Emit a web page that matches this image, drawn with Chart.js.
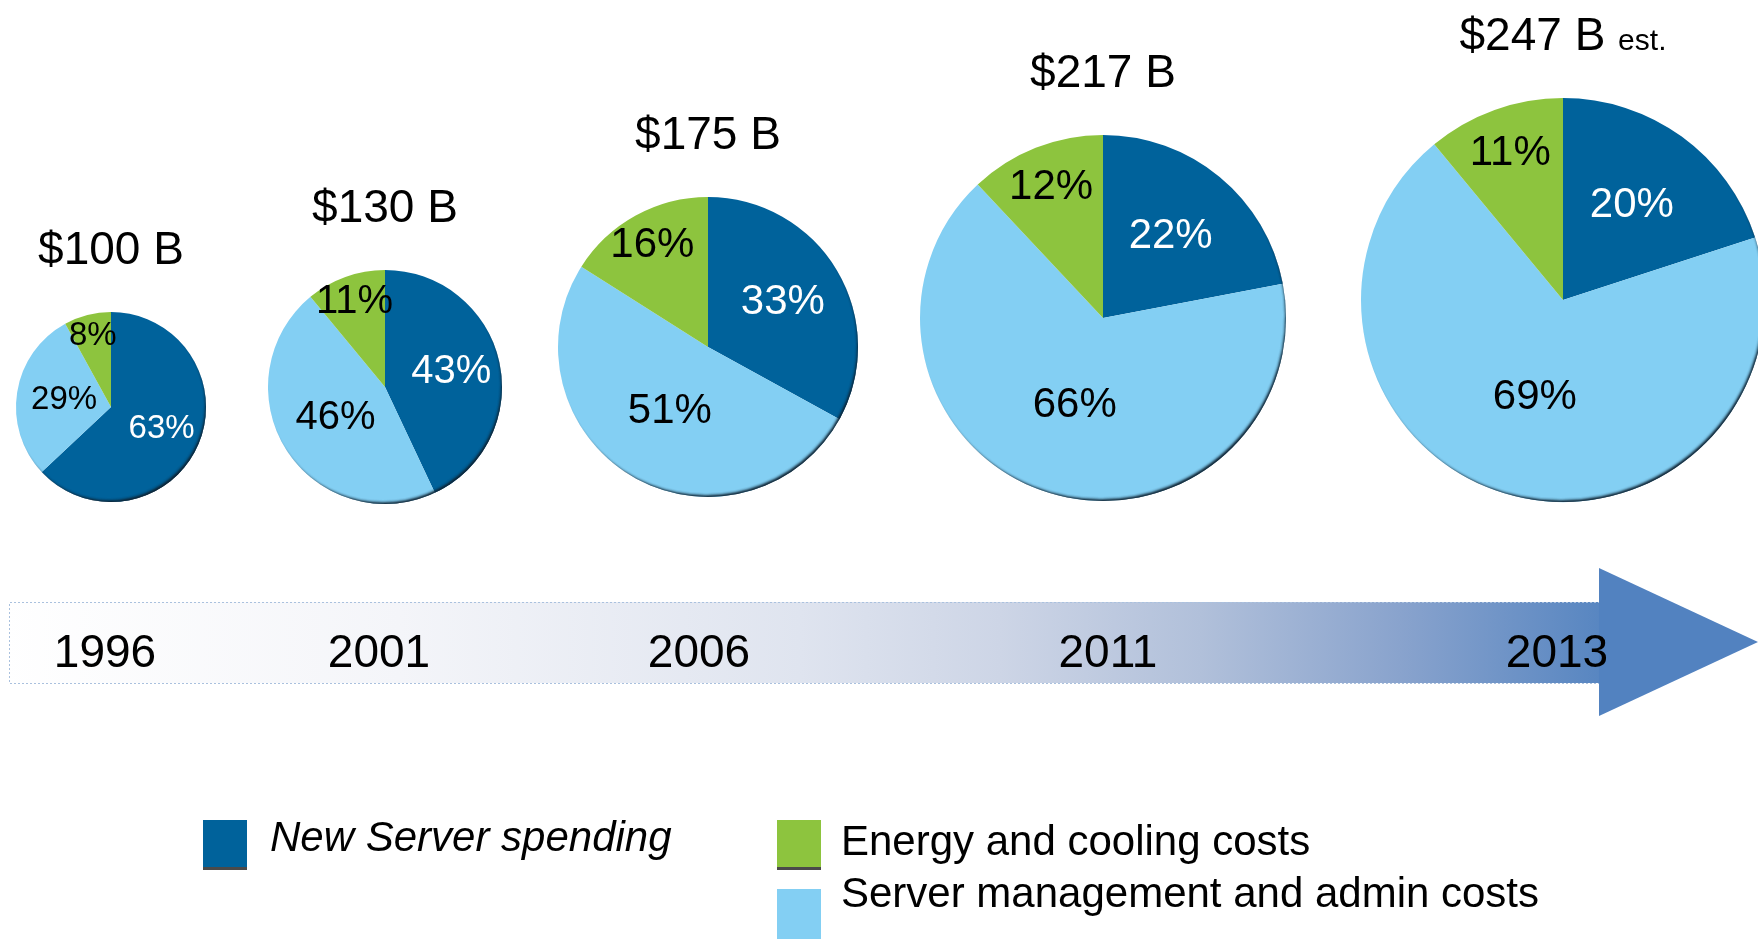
<!DOCTYPE html>
<html>
<head>
<meta charset="utf-8">
<script src="https://cdn.jsdelivr.net/npm/chart.js@4.4.1/dist/chart.umd.min.js"></script>
<style>
  html, body { margin: 0; padding: 0; width: 1758px; height: 939px; overflow: hidden; background: #fff; }
  body { position: relative; font-family: "Liberation Sans", Arial, sans-serif; color: #000; }
  .abs { position: absolute; }
  .total { font-size: 46px; line-height: 46px; white-space: nowrap; transform: translateX(-50%); }
  .total small { font-size: 30px; }
  .year { font-size: 46px; line-height: 46px; transform: translateX(-50%); }
  .swatch { width: 44px; height: 47px; }
  .swatch.edge { border-bottom: 3px solid #4a4a4a; }
  .legend-text { font-size: 42px; line-height: 42px; white-space: nowrap; }
</style>
</head>
<body>
<canvas id="arrow" class="abs" width="1758" height="939" style="left:0;top:0"></canvas>
<script>
  // values (percent of yearly total)
  const years = ['1996', '2001', '2006', '2011', '2013'];
  const totalLabels = ['$100 B', '$130 B', '$175 B', '$217 B', '$247 B'];
  const totalNotes = ['', '', '', '', 'est.'];
  const newServerSpending = [63, 43, 33, 22, 20];
  const serverMgmtCosts = [29, 46, 51, 66, 69];
  const energyCoolingCosts = [8, 11, 16, 12, 11];

  // slice order clockwise from 12 o'clock
  const seriesNames = ['New Server spending', 'Server management and admin costs', 'Energy and cooling costs'];
  const seriesColors = ['#00629b', '#83cff3', '#8dc43e'];
  const labelColors = ['#ffffff', '#000000', '#000000'];
  const labelRadius = [0.58, 0.5, 0.77];

  // where each pie sits on the page
  const pieLayout = [
    { cx: 111, cy: 407, r: 95, font: 33, yearX: 105 },
    { cx: 385, cy: 387, r: 117, font: 40, yearX: 379 },
    { cx: 708, cy: 347, r: 150, font: 42, yearX: 699 },
    { cx: 1103, cy: 318, r: 183, font: 42, yearX: 1108 },
    { cx: 1563, cy: 300, r: 202, font: 42, yearX: 1557 }
  ];

  const legendLayout = [
    { series: 0, box: [203, 820], text: [270, 816], italic: true, edge: true },
    { series: 2, box: [777, 820], text: [841, 820], italic: false, edge: true },
    { series: 1, box: [777, 889], text: [841, 872], italic: false, edge: false }
  ];

  // timeline arrow
  const actx = document.getElementById('arrow').getContext('2d');
  const grad = actx.createLinearGradient(0, 0, 1600, 0);
  grad.addColorStop(0, '#ffffff');
  grad.addColorStop(0.25, '#f4f5f9');
  grad.addColorStop(0.5, '#dfe4ef');
  grad.addColorStop(0.625, '#cdd5e6');
  grad.addColorStop(0.75, '#b1c0da');
  grad.addColorStop(0.875, '#89a3cd');
  grad.addColorStop(1, '#5886c1');
  actx.fillStyle = grad;
  actx.fillRect(9, 602, 1591, 81);
  actx.setLineDash([2, 2]);
  actx.strokeStyle = '#aac1de';
  actx.lineWidth = 1;
  actx.beginPath();
  actx.moveTo(1600, 602.5);
  actx.lineTo(9.5, 602.5);
  actx.lineTo(9.5, 683.5);
  actx.lineTo(1600, 683.5);
  actx.stroke();
  actx.setLineDash([]);
  actx.fillStyle = '#5282c0';
  actx.beginPath();
  actx.moveTo(1599, 568);
  actx.lineTo(1758, 642);
  actx.lineTo(1599, 716);
  actx.closePath();
  actx.fill();

  // dark rim inside the lower right edge of every pie
  const pieRim = {
    id: 'pieRim',
    afterDatasetsDraw(chart) {
      const arc = chart.getDatasetMeta(0).data[0];
      if (!arc) {
        return;
      }
      const { x, y, outerRadius } = arc.getProps(['x', 'y', 'outerRadius'], true);
      const ctx = chart.ctx;
      ctx.save();
      ctx.beginPath();
      ctx.arc(x, y, outerRadius, 0, Math.PI * 2);
      ctx.clip();
      ctx.shadowColor = 'rgba(14, 34, 50, 0.9)';
      ctx.shadowBlur = 3;
      ctx.shadowOffsetX = -2;
      ctx.shadowOffsetY = -3;
      ctx.strokeStyle = '#000';
      ctx.lineWidth = 20;
      for (let k = 0; k < 2; k++) {
        ctx.beginPath();
        ctx.arc(x, y, outerRadius + 12, 0, Math.PI * 2);
        ctx.stroke();
      }
      ctx.restore();
    }
  };

  const pctLabels = {
    id: 'pctLabels',
    afterDatasetsDraw(chart, args, opts) {
      const ctx = chart.ctx;
      const values = chart.data.datasets[0].data;
      chart.getDatasetMeta(0).data.forEach((arc, i) => {
        const p = arc.getProps(['x', 'y', 'startAngle', 'endAngle', 'outerRadius'], true);
        const mid = (p.startAngle + p.endAngle) / 2;
        const rr = p.outerRadius * labelRadius[i];
        ctx.save();
        ctx.font = `${opts.size}px "Liberation Sans", Arial, sans-serif`;
        ctx.fillStyle = labelColors[i];
        ctx.textAlign = 'center';
        ctx.textBaseline = 'middle';
        ctx.fillText(`${values[i]}%`, p.x + Math.cos(mid) * rr, p.y + Math.sin(mid) * rr);
        ctx.restore();
      });
    }
  };

  function addDiv(cls, left, top, html) {
    const el = document.createElement('div');
    el.className = `abs ${cls}`;
    el.style.left = `${left}px`;
    el.style.top = `${top}px`;
    el.innerHTML = html;
    document.body.appendChild(el);
    return el;
  }

  pieLayout.forEach((pl, i) => {
    const pad = 10;
    const size = pl.r * 2 + pad * 2;
    const canvas = document.createElement('canvas');
    canvas.className = 'abs';
    canvas.width = size;
    canvas.height = size;
    canvas.style.left = `${pl.cx - pl.r - pad}px`;
    canvas.style.top = `${pl.cy - pl.r - pad}px`;
    document.body.appendChild(canvas);

    new Chart(canvas, {
      type: 'pie',
      data: {
        labels: seriesNames,
        datasets: [{
          data: [newServerSpending[i], serverMgmtCosts[i], energyCoolingCosts[i]],
          backgroundColor: seriesColors,
          borderWidth: 0,
          hoverOffset: 0,
          offset: 0
        }]
      },
      options: {
        responsive: false,
        animation: false,
        events: [],
        layout: { padding: pad },
        plugins: {
          legend: { display: false },
          tooltip: { enabled: false },
          pctLabels: { size: pl.font }
        }
      },
      plugins: [pieRim, pctLabels]
    });

    const note = totalNotes[i] ? ` <small>${totalNotes[i]}</small>` : '';
    addDiv('total', pl.cx, pl.cy - pl.r - 87, totalLabels[i] + note);
    addDiv('year', pl.yearX, 628, years[i]);
  });

  legendLayout.forEach(item => {
    const box = addDiv(`swatch${item.edge ? ' edge' : ''}`, item.box[0], item.box[1], '');
    box.style.background = seriesColors[item.series];
    if (!item.edge) {
      box.style.height = '50px';
    }
    const txt = addDiv('legend-text', item.text[0], item.text[1], seriesNames[item.series]);
    if (item.italic) {
      txt.style.fontStyle = 'italic';
    }
  });
</script>
</body>
</html>
